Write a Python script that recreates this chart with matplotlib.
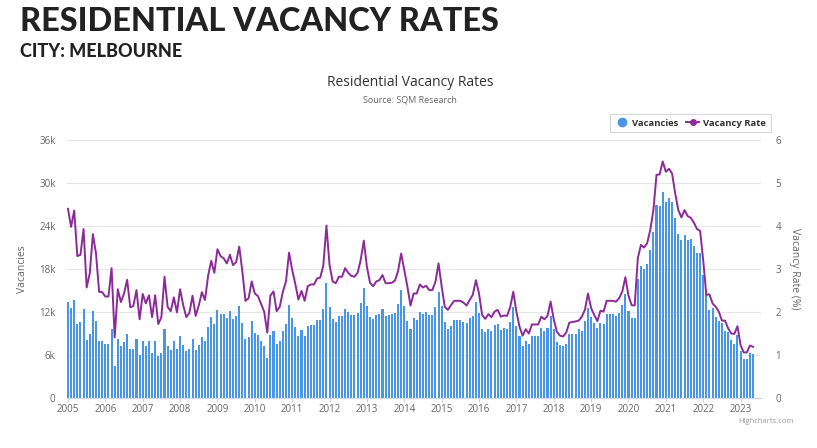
import numpy as np
import matplotlib
matplotlib.use("Agg")
import matplotlib.pyplot as plt
from matplotlib.lines import Line2D

# Melbourne monthly data, Jan 2005 - May 2023
vacancies_k = [
    13.35, 12.5, 13.7, 10.3, 10.6, 12.4, 8.1, 9.0, 12.1, 10.7, 7.9, 7.9,      # 2005
    7.5, 7.5, 9.6, 4.5, 8.2, 7.2, 7.8, 9.0, 6.9, 6.9, 8.3, 6.0,               # 2006
    8.0, 7.3, 8.0, 6.3, 8.0, 5.8, 6.3, 9.6, 7.3, 6.7, 8.0, 6.8,               # 2007
    8.7, 7.4, 6.5, 6.8, 8.2, 6.7, 7.4, 8.5, 8.0, 9.95, 11.3, 10.3,            # 2008
    12.3, 11.7, 11.7, 11.1, 12.2, 11.0, 11.4, 12.8, 10.5, 8.3, 8.5, 10.8,     # 2009
    9.1, 8.8, 8.0, 7.2, 5.6, 8.8, 9.3, 7.5, 7.9, 9.3, 10.3, 13.0,             # 2010
    11.1, 9.95, 8.65, 9.5, 8.65, 10.05, 10.2, 10.2, 10.9, 10.9, 12.4, 16.0,   # 2011
    12.65, 11.0, 10.65, 11.45, 11.45, 12.4, 12.0, 11.6, 11.6, 11.9, 13.3, 15.4,  # 2012
    12.8, 11.35, 11.0, 11.6, 11.7, 12.4, 11.5, 11.6, 11.7, 11.9, 13.1, 15.1,  # 2013
    12.9, 10.8, 9.6, 11.1, 10.9, 12.0, 11.7, 12.0, 11.6, 11.6, 12.65, 14.75,  # 2014
    12.8, 10.65, 9.6, 10.1, 10.9, 10.9, 10.9, 10.6, 10.4, 11.1, 11.5, 13.4,   # 2015
    11.9, 9.6, 9.2, 9.6, 9.3, 10.2, 10.3, 9.5, 9.8, 9.6, 10.6, 12.7,          # 2016
    10.05, 8.65, 7.3, 8.0, 7.5, 8.7, 8.7, 8.7, 9.7, 9.3, 9.8, 11.5,           # 2017
    9.6, 7.8, 7.4, 7.2, 7.6, 9.0, 9.0, 9.0, 9.6, 9.4, 10.7, 12.6,             # 2018
    11.35, 10.5, 9.7, 10.4, 10.3, 11.7, 11.7, 11.7, 11.5, 11.9, 13.0, 14.5,   # 2019
    12.2, 11.1, 11.1, 16.6, 18.4, 18.0, 18.7, 20.7, 23.1, 26.9, 26.8, 28.7,   # 2020
    27.4, 27.9, 27.3, 25.1, 22.9, 22.0, 22.8, 22.1, 22.2, 21.2, 20.3, 20.3,   # 2021
    17.1, 14.6, 12.3, 12.6, 11.35, 10.8, 10.4, 9.3, 9.25, 8.1, 7.6, 8.8,      # 2022
    6.5, 5.4, 5.4, 6.3, 6.1,                                                  # 2023
]

vacancy_rate = [
    4.40, 3.98, 4.36, 3.30, 3.33, 3.93, 2.57, 2.90, 3.81, 3.36, 2.47, 2.46,
    2.36, 2.36, 3.02, 1.41, 2.53, 2.23, 2.43, 2.75, 2.11, 2.14, 2.51, 1.83,
    2.42, 2.20, 2.39, 1.88, 2.39, 1.72, 1.88, 2.82, 2.12, 2.02, 2.34, 1.99,
    2.53, 2.16, 1.88, 1.98, 2.38, 1.91, 2.15, 2.46, 2.28, 2.84, 3.19, 2.91,
    3.46, 3.30, 3.25, 3.13, 3.33, 3.09, 3.16, 3.52, 2.94, 2.26, 2.32, 2.71,
    2.43, 2.37, 2.19, 2.01, 1.52, 2.38, 2.48, 2.02, 2.12, 2.47, 2.71, 3.38,
    2.98, 2.65, 2.29, 2.49, 2.26, 2.60, 2.64, 2.64, 2.78, 2.80, 3.08, 4.01,
    3.09, 2.71, 2.67, 2.82, 2.82, 3.02, 2.91, 2.84, 2.82, 2.91, 3.21, 3.66,
    3.05, 2.68, 2.60, 2.71, 2.74, 2.86, 2.67, 2.67, 2.68, 2.73, 2.95, 3.36,
    2.98, 2.59, 2.15, 2.43, 2.43, 2.64, 2.57, 2.61, 2.51, 2.51, 2.70, 3.13,
    2.60, 2.12, 2.05, 2.16, 2.26, 2.26, 2.26, 2.22, 2.15, 2.28, 2.40, 2.74,
    2.43, 1.93, 1.84, 1.95, 1.88, 2.01, 2.05, 1.89, 1.92, 1.91, 2.11, 2.47,
    2.01, 1.66, 1.45, 1.60, 1.50, 1.71, 1.71, 1.71, 1.89, 1.83, 1.91, 2.24,
    1.83, 1.54, 1.45, 1.43, 1.52, 1.75, 1.77, 1.78, 1.80, 1.89, 2.05, 2.43,
    2.09, 1.93, 1.79, 2.03, 2.01, 2.26, 2.26, 2.26, 2.24, 2.32, 2.47, 2.81,
    2.38, 2.16, 2.15, 3.25, 3.56, 3.50, 3.60, 3.91, 4.37, 5.19, 5.20, 5.50,
    5.26, 5.33, 5.22, 4.76, 4.37, 4.20, 4.37, 4.23, 4.19, 4.08, 3.93, 3.89,
    3.20, 2.40, 2.41, 2.20, 2.12, 2.01, 1.80, 1.80, 1.62, 1.50, 1.49, 1.67,
    1.23, 1.06, 1.06, 1.22, 1.19,
]

years = list(range(2005, 2024))
left_ticks = [0, 6, 12, 18, 24, 30, 36]
left_labels = ["0", "6k", "12k", "18k", "24k", "30k", "36k"]
right_ticks = [0, 1, 2, 3, 4, 5, 6]

bar_color = "#4a96e6"
line_color = "#8c2a9a"
text_gray = "#666666"

plt.rcParams["font.family"] = ["Open Sans", "DejaVu Sans"]

n = len(vacancies_k)
x = 2005 + np.arange(n) / 12.0

fig = plt.figure(figsize=(8.17, 4.48), dpi=100)
ax = fig.add_axes([0.0816, 0.1116, 0.932 - 0.0816, 0.6875 - 0.1116])
ax2 = ax.twinx()

ax.bar(x, vacancies_k, width=0.055, color=bar_color, zorder=2)
ax2.plot(x, vacancy_rate, color=line_color, linewidth=1.4, zorder=3)

ax.set_xlim(2005 - 0.035, x[-1] + 0.225)
ax.set_ylim(0, 36)
ax2.set_ylim(0, 6)

ax.set_yticks(left_ticks)
ax.set_yticklabels(left_labels)
ax2.set_yticks(right_ticks)
ax.set_xticks(years)
ax.set_xticklabels([str(y) for y in years])

ax.grid(axis="y", color="#e6e6e6", linewidth=0.8, zorder=0)
ax.set_axisbelow(True)
for a in (ax, ax2):
    for side in ("top", "left", "right"):
        a.spines[side].set_visible(False)
    a.spines["bottom"].set_color("#ccd6eb")
ax.tick_params(axis="y", length=0, labelsize=7, colors=text_gray, pad=8)
ax2.tick_params(axis="y", length=0, labelsize=7, colors=text_gray, pad=10)
ax.tick_params(axis="x", length=3, color="#ccd6eb", labelsize=7, labelcolor=text_gray, pad=1)

ax.set_ylabel("Vacancies", fontsize=7.5, color=text_gray, labelpad=8)
ax2.set_ylabel("Vacancy Rate (%)", fontsize=7.5, color=text_gray, rotation=270, labelpad=14)

fig.text(0.024, 0.952, "RESIDENTIAL VACANCY RATES", fontsize=23.4, fontweight="black",
         color="#222222", family=["Lato", "DejaVu Sans"], va="center", ha="left")
fig.text(0.024, 0.884, "CITY: MELBOURNE", fontsize=13, fontweight="black",
         color="#222222", family=["Lato", "DejaVu Sans"], va="center", ha="left")
fig.text(0.502, 0.815, "Residential Vacancy Rates", fontsize=10, color="#333333",
         ha="center", va="center")
fig.text(0.502, 0.777, "Source: SQM Research", fontsize=6.5, color=text_gray,
         ha="center", va="center")
fig.text(0.971, 0.06, "Highcharts.com", fontsize=5.5, color="#999999", ha="right", va="center")

handles = [
    Line2D([], [], marker="o", linestyle="none", markersize=6, color=bar_color),
    Line2D([], [], marker="o", markersize=4, color=line_color, linewidth=1.4),
]
leg = fig.legend(handles, ["Vacancies", "Vacancy Rate"], loc="center right",
                 bbox_to_anchor=(0.949, 0.725), ncol=2, frameon=True, fontsize=6.8,
                 handlelength=1.4, columnspacing=0.8, handletextpad=0.4,
                 borderpad=0.5, fancybox=False)
leg.get_frame().set_edgecolor("#cccccc")
leg.get_frame().set_linewidth(0.8)
for t in leg.get_texts():
    t.set_fontweight("bold")
    t.set_color("#333333")

fig.savefig("out.png", dpi=100)
